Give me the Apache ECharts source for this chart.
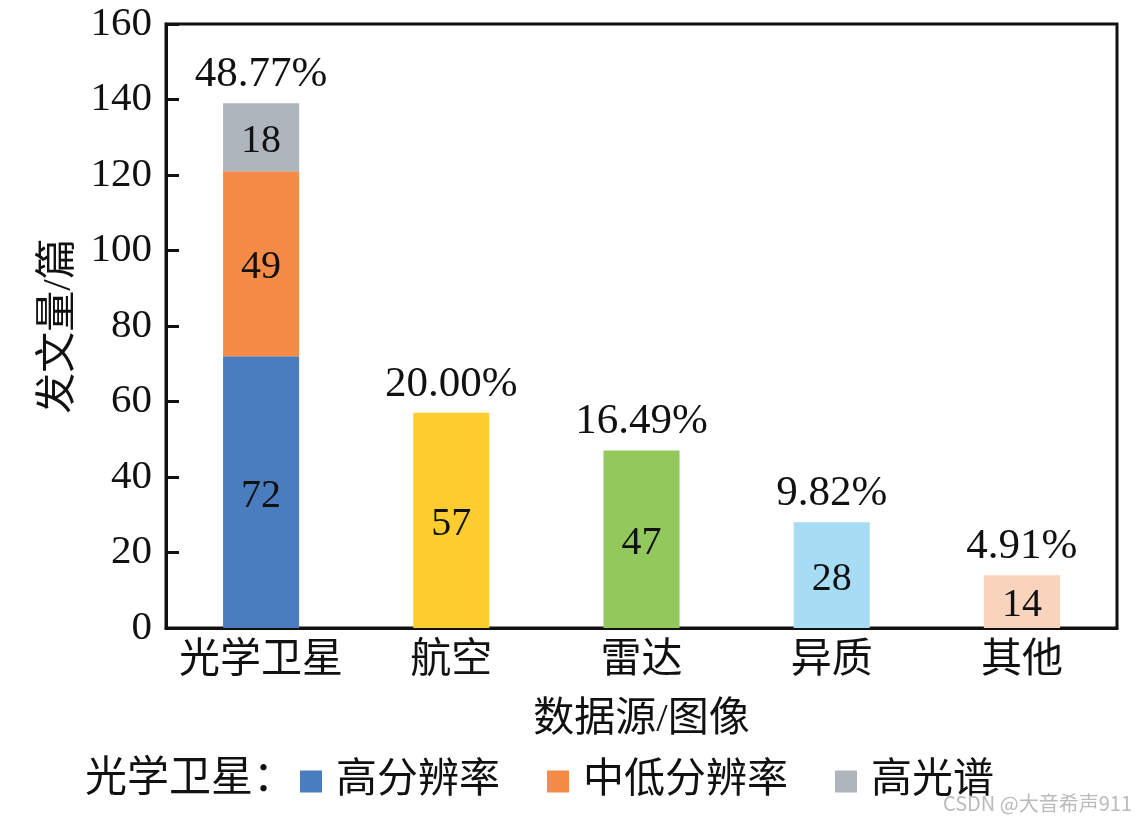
<!DOCTYPE html>
<html>
<head>
<meta charset="utf-8">
<script src="https://cdn.jsdelivr.net/npm/echarts@6/dist/echarts.min.js"></script>
<style>
html,body{margin:0;padding:0;background:#fff;}
#chart{width:1146px;height:822px;}
</style>
</head>
<body>
<div id="chart"></div>
<script>
// 数据
var categories = ['光学卫星', '航空', '雷达', '异质', '其他'];
var highRes = [72, 57, 47, 28, 14];      // 第一段（其余类别单柱也放这里）
var midLowRes = [49, '-', '-', '-', '-'];
var hyperSpec = [18, '-', '-', '-', '-'];
var percents = ['48.77%', '20.00%', '16.49%', '9.82%', '4.91%'];
var otherColors = [null, '#fdcd30', '#93c85c', '#a7dcf5', '#fad3bd'];

var serif = '"Liberation Serif", "Noto Sans CJK SC", serif';
var dom = document.getElementById('chart');
var myChart = echarts.init(dom);

var firstData = highRes.map(function (v, i) {
    if (otherColors[i]) {
        return { value: v, itemStyle: { color: otherColors[i] } };
    }
    return v;
});

var innerLabel = {
    show: true,
    position: 'inside',
    offset: [0, 4],
    color: '#111',
    fontFamily: serif,
    fontSize: 40
};

var option = {
    animation: false,
    title: {
        text: '光学卫星：',
        left: 80,
        top: 754,
        textStyle: { fontFamily: serif, fontSize: 42, fontWeight: 'normal', color: '#111' }
    },
    legend: {
        data: ['高分辨率', '中低分辨率', '高光谱'],
        left: 295,
        top: 756,
        icon: 'rect',
        itemWidth: 22,
        itemHeight: 22,
        itemGap: 47,
        textStyle: { fontFamily: serif, fontSize: 41, color: '#111', padding: [0, 0, 0, 9] }
    },
    grid: {
        left: 166,
        right: 29,
        top: 24,
        bottom: 194,
        show: true,
        borderColor: '#111',
        borderWidth: 3
    },
    xAxis: {
        type: 'category',
        data: categories,
        name: '数据源/图像',
        nameLocation: 'middle',
        nameGap: 72,
        nameTextStyle: { fontFamily: serif, fontSize: 41, color: '#111' },
        axisLine: { lineStyle: { color: '#111', width: 3 } },
        axisTick: { show: false },
        axisLabel: { interval: 0, fontFamily: serif, fontSize: 41, color: '#111', margin: 13 }
    },
    yAxis: {
        type: 'value',
        min: 0,
        max: 160,
        interval: 20,
        name: '发文量/篇',
        nameLocation: 'middle',
        nameGap: 84,
        nameTextStyle: { fontFamily: serif, fontSize: 41, color: '#111' },
        axisLine: { show: true, lineStyle: { color: '#111', width: 3 } },
        axisTick: { show: true, inside: true, length: 13, lineStyle: { color: '#111', width: 3 } },
        splitLine: { show: false },
        axisLabel: { fontFamily: serif, fontSize: 41, color: '#111', margin: 14 }
    },
    series: [
        {
            name: '高分辨率',
            type: 'bar',
            stack: 'total',
            barWidth: '40%',
            itemStyle: { color: '#4a7dbf' },
            label: innerLabel,
            data: firstData
        },
        {
            name: '中低分辨率',
            type: 'bar',
            stack: 'total',
            itemStyle: { color: '#f68b47' },
            label: innerLabel,
            data: midLowRes
        },
        {
            name: '高光谱',
            type: 'bar',
            stack: 'total',
            itemStyle: { color: '#adb5bd' },
            label: innerLabel,
            data: hyperSpec
        },
        {
            name: '合计',
            type: 'bar',
            stack: 'total',
            itemStyle: { color: 'transparent' },
            label: {
                show: true,
                position: 'top',
                distance: 7,
                color: '#111',
                fontFamily: serif,
                fontSize: 43,
                formatter: function (p) { return percents[p.dataIndex]; }
            },
            data: categories.map(function () { return 0; })
        }
    ],
    graphic: [
        {
            type: 'text',
            right: 14,
            top: 793,
            style: { text: 'CSDN @大音希声911', fontSize: 20, fill: '#bbb', fontFamily: '"Noto Sans CJK SC", sans-serif' }
        }
    ]
};
myChart.setOption(option, true);
</script>
</body>
</html>
